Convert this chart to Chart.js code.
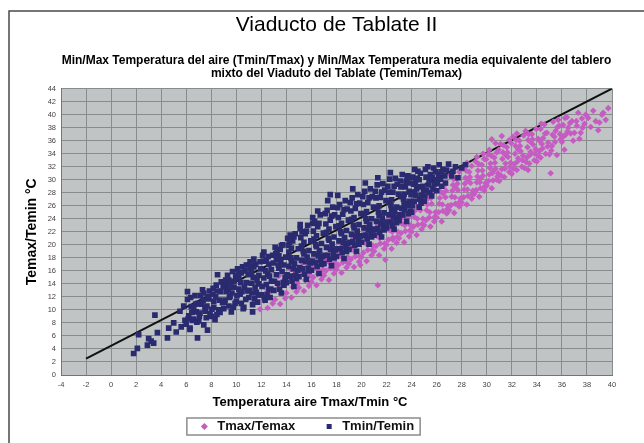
<!DOCTYPE html>
<html>
<head>
<meta charset="utf-8">
<script src="https://cdn.jsdelivr.net/npm/chart.js"></script>
<style>
    html, body { margin: 0; padding: 0; background: #fff; }
</style>
</head>
<body>
<canvas id="myChart" width="644" height="443"></canvas>
<script>
const myChartCanvas = document.getElementById("myChart");

// textos
const chartTitle = "Viaducto de Tablate II";
const chartSubtitle = [
    "Min/Max Temperatura del aire (Tmin/Tmax) y Min/Max Temperatura media equivalente del tablero",
    "mixto del Viaduto del Tablate (Temin/Temax)"
];
const xTitle = "Temperatura aire Tmax/Tmin °C";
const yTitle = "Temax/Temin °C";
const seriesNames = ["Tmax/Temax", "Tmin/Temin"];

// ejes (min, max, paso)
const xRange = [-4, 40, 2];
const yRange = [0, 44, 2];

// recta de referencia
const refLineX = [-2, 40];
const refLineY = [2.5, 44];

// [T aire max, T tablero max]
const tmaxTemax = [
    [11.3,10.9],[11.7,12.2],[11.9,10.1],
    [12.2,11.4],[12.5,10.3],[12.7,12.8],[12.9,11.0],[12.4,13.3],
    [13.1,11.6],[13.3,13.9],[13.5,10.9],[13.6,12.5],[13.8,14.6],[13.9,11.8],[13.4,15.2],
    [14.0,12.6],[14.2,14.9],[14.4,11.9],[14.5,13.5],[14.7,15.6],[14.8,12.8],[14.3,16.3],[14.9,14.1],
    [15.0,13.4],[15.2,15.8],[15.4,12.9],[15.5,14.6],[15.7,16.7],[15.8,13.7],[15.3,17.2],[15.9,15.3],[15.6,18.0],
    [16.0,14.3],[16.2,16.8],[16.4,13.8],[16.5,15.5],[16.7,17.6],[16.8,14.7],[16.3,18.3],[16.9,16.2],[16.6,19.0],
    [17.0,15.3],[17.2,17.7],[17.4,14.6],[17.5,16.4],[17.7,18.6],[17.8,15.6],[17.3,19.4],[17.9,17.2],[17.6,20.1],
    [18.0,16.2],[18.2,18.6],[18.4,15.7],[18.5,17.3],[18.7,19.5],[18.8,16.5],[18.3,20.3],[18.9,18.1],[18.6,21.0],
    [19.0,17.1],[19.2,19.5],[19.4,16.6],[19.5,18.2],[19.7,20.5],[19.8,17.4],[19.3,21.2],[19.9,16.9],[19.6,22.0],
    [20.0,18.1],[20.2,20.4],[20.4,17.5],[20.5,19.2],[20.7,21.4],[20.8,18.4],[20.3,22.2],[20.9,19.9],[20.6,23.0],
    [21.0,19.0],[21.3,13.8],[21.2,21.4],[21.4,18.4],[21.5,20.2],[21.7,22.4],[21.9,17.7],[21.8,19.4],[21.3,23.1],[21.6,24.0],
    [22.0,20.0],[22.2,22.3],[22.4,19.4],[22.5,21.1],[22.7,23.3],[22.8,20.3],[22.3,24.1],[22.9,22.0],[22.6,24.9],[22.5,20.8],
    [23.0,21.0],[23.2,23.3],[23.4,20.4],[23.5,22.1],[23.7,24.3],[23.8,21.3],[23.3,25.0],[23.9,23.0],[23.6,25.9],
    [24.0,22.0],[24.2,24.3],[24.4,21.5],[24.5,23.1],[24.7,25.3],[24.8,22.4],[24.3,26.0],[24.9,24.0],[24.6,26.9],[24.1,27.5],
    [25.0,23.0],[25.2,25.3],[25.5,22.8],[25.4,24.2],[25.6,26.3],[25.8,23.6],[25.3,27.1],[25.9,25.0],[25.7,28.0],[25.1,28.6],
    [26.0,24.2],[26.2,26.3],[26.4,23.6],[26.5,25.2],[26.7,27.3],[26.8,24.8],[26.3,28.2],[26.9,26.0],[26.6,29.1],[26.1,29.7],[26.5,27.9],
    [27.0,25.3],[27.2,27.4],[27.4,24.9],[27.5,26.3],[27.7,28.4],[27.8,25.9],[27.3,29.2],[27.9,27.1],[27.6,30.2],[27.1,30.7],[27.5,28.8],[27.8,31.2],
    [28.0,26.5],[28.2,28.5],[28.4,26.2],[28.5,27.5],[28.7,29.5],[28.8,27.1],[28.3,30.3],[28.9,28.3],[28.6,31.2],[28.1,31.7],[28.5,29.9],[28.8,32.1],[28.4,32.6],
    [29.0,27.8],[29.2,29.6],[29.4,27.4],[29.5,28.7],[29.7,30.6],[29.8,28.3],[29.3,31.4],[29.9,29.5],[29.6,32.3],[29.1,32.8],[29.5,30.2],[29.8,33.2],[29.2,33.5],[29.7,34.0],
    [30.0,29.1],[30.2,30.8],[30.4,28.7],[30.5,29.9],[30.7,31.7],[30.8,30.0],[30.3,32.5],[30.9,31.0],[30.6,33.4],[30.1,33.9],[30.5,31.3],[30.8,34.2],[30.2,34.6],[30.7,35.6],[30.4,36.2],
    [31.0,29.8],[31.2,31.6],[31.4,30.4],[31.5,32.5],[31.7,33.5],[31.8,31.2],[31.3,34.2],[31.9,32.6],[31.6,35.0],[31.1,35.5],[31.5,33.8],[31.8,36.1],[31.2,36.7],
    [32.0,30.9],[32.2,32.4],[32.4,31.5],[32.5,33.3],[32.7,34.4],[32.8,32.0],[32.3,35.2],[32.9,33.7],[32.6,36.0],[32.1,36.6],[32.5,34.6],[32.4,37.1],
    [33.0,31.8],[33.3,31.5],[33.2,33.4],[33.4,32.5],[33.5,34.3],[33.7,35.4],[33.8,33.0],[33.3,36.1],[33.9,34.7],[33.6,37.0],[33.1,37.5],[33.5,35.8],
    [34.0,32.8],[34.3,33.4],[34.2,34.4],[34.4,35.5],[34.5,36.4],[34.7,34.0],[34.8,37.2],[34.3,37.8],[34.9,35.7],[34.6,38.5],[34.1,36.3],
    [35.1,31.0],[35.0,33.9],[35.2,35.2],[35.4,36.6],[35.5,37.5],[35.6,33.8],[35.8,38.3],[35.3,38.9],[35.9,36.2],[35.7,39.2],
    [36.0,35.8],[36.2,34.6],[36.3,36.9],[36.5,38.0],[36.7,37.1],[36.8,39.0],[36.4,39.6],[36.9,36.0],[36.1,38.4],
    [37.0,37.2],[37.2,38.3],[37.3,40.3],[37.5,37.2],[37.6,39.4],[37.8,38.6],[37.4,36.3],[37.9,40.0],
    [38.1,39.5],[38.3,38.1],[38.5,40.6],[38.7,39.0],[38.9,37.6],
    [39.0,38.8],[39.2,40.0],[39.3,40.3],[39.5,39.2],[39.7,41.0],
    [16.15,15.0],[16.45,16.2],[16.85,15.4],[17.15,16.0],[17.45,17.2],[17.85,16.4],[18.15,16.9],[18.45,18.1],[18.85,17.3],
    [19.15,17.8],[19.45,19.0],[19.85,18.2],[20.15,18.8],[20.45,20.0],[20.85,19.2],[21.15,19.8],[21.45,21.0],[21.85,20.2],
    [22.15,20.8],[22.45,22.0],[22.85,21.2],
    [23.15,21.8],[23.45,23.0],[23.85,22.2],[23.25,24.2],[24.15,22.8],[24.45,24.0],[24.85,23.2],[24.25,25.2],
    [25.15,23.8],[25.45,25.0],[25.85,24.3],[25.25,26.2],[25.55,27.2],
    [26.15,25.0],[26.45,26.2],[26.85,25.5],[26.25,27.2],[26.75,28.3],[27.15,26.1],[27.45,27.3],[27.85,26.6],[27.25,28.3],
    [27.65,29.4],[27.35,30.1],[28.15,27.3],[28.45,28.5],[28.85,27.8],[28.25,29.4],[28.65,30.4],[28.35,31.4],[29.15,28.4],
    [29.45,29.6],[29.85,29.0],[29.25,30.5],[29.65,31.4],[29.35,32.4],[29.95,33.1],
    [30.15,29.8],[30.45,31.0],[30.85,30.5],[30.25,31.8],[30.65,32.6],[30.35,33.7],[30.95,34.6],[31.15,30.6],[31.45,31.7],
    [31.85,32.0],[31.25,33.2],[31.65,34.2],[31.35,35.3],[31.95,35.6],[32.15,31.7],[32.45,32.8],[32.85,33.0],[32.25,34.0],
    [32.65,35.2],[32.35,36.1],[32.95,36.8],[33.15,32.7],[33.45,33.8],[33.85,34.0],[33.25,35.0],[33.65,36.2],[33.35,37.0],
    [33.95,37.8],[34.15,33.6],[34.45,34.8],[34.85,35.1],[34.25,35.9],[34.65,37.1],[34.35,38.6],[35.15,34.5],[35.45,35.8],
    [35.85,37.0],[35.25,36.9],[35.65,38.1],[36.15,36.7],[36.45,37.4],[36.65,38.7],[36.25,39.5],[37.15,39.0],[37.65,38.0]
];

// [T aire min, T tablero min]
const tminTemin = [
    [1.8,3.3],[2.1,4.1],[2.2,6.2],[2.9,4.6],[3.2,5.2],[3.0,5.6],[3.4,4.9],[3.7,6.5],[3.5,9.2],[4.5,5.7],[4.6,7.2],
    [5.0,8.0],[5.2,6.6],[5.6,7.4],[5.5,9.8],[5.9,8.4],[6.1,12.8],[6.9,5.7],[7.7,6.9],[6.3,7.0],[6.6,8.6],[5.8,10.6],
    [8.5,15.4],[11.3,9.7],
    [6.0,7.8],[6.2,9.1],[6.4,10.5],[6.1,11.6],[6.5,8.4],[6.7,12.2],[6.8,9.7],[6.3,7.2],[6.9,11.0],[6.6,10.1],
    [7.0,8.3],[7.2,10.9],[7.4,12.6],[7.1,9.5],[7.6,8.8],[7.8,11.7],[7.3,13.1],[7.5,10.2],[7.9,9.4],[7.7,12.0],[7.4,7.7],
    [8.0,9.0],[8.2,11.3],[8.4,13.8],[8.1,12.4],[8.6,10.0],[8.8,14.3],[8.3,8.5],[8.5,12.9],[8.9,11.1],[8.7,9.6],[8.2,10.4],
    [9.0,10.2],[9.2,12.8],[9.4,14.6],[9.1,11.5],[9.6,9.7],[9.8,13.5],[9.3,15.3],[9.5,12.1],[9.9,11.0],[9.7,15.9],[9.4,10.6],[9.2,13.9],[9.8,14.4],
    [10.0,11.3],[10.2,13.2],[10.4,15.7],[10.1,16.3],[10.6,10.4],[10.8,14.2],[10.3,12.4],[10.5,16.6],[10.9,12.9],[10.7,16.0],[10.4,11.0],[10.2,14.8],[10.8,16.9],
    [11.0,11.9],[11.2,14.1],[11.4,16.6],[11.1,17.4],[11.6,12.7],[11.8,15.3],[11.3,10.8],[11.5,13.5],[11.9,17.4],[11.7,11.2],[11.4,17.8],[11.2,15.8],[11.8,14.0],[11.0,16.9],
    [12.0,12.3],[12.2,14.9],[12.4,17.6],[12.1,18.4],[12.6,13.1],[12.8,16.2],[12.3,11.5],[12.5,15.5],[12.9,18.4],[12.7,11.9],[12.4,13.9],[12.2,18.9],[12.8,14.4],[12.6,17.0],
    [13.0,13.0],[13.2,15.4],[13.4,18.3],[13.1,19.6],[13.6,12.6],[13.8,16.9],[13.3,14.1],[13.5,19.3],[13.9,15.0],[13.7,20.0],[13.4,16.4],[13.2,17.8],[13.8,13.8],[13.6,19.9],
    [14.0,14.2],[14.2,16.7],[14.4,19.5],[14.1,21.0],[14.6,13.6],[14.8,18.0],[14.3,15.2],[14.5,20.6],[14.9,16.1],[14.7,21.7],[14.4,17.5],[14.2,18.9],[14.8,14.8],[14.6,21.2],[14.3,21.5],
    [15.0,15.1],[15.2,17.6],[15.4,20.4],[15.1,22.5],[15.6,14.7],[15.8,19.1],[15.3,16.3],[15.5,21.7],[15.9,17.2],[15.7,23.0],[15.4,18.6],[15.2,19.8],[15.8,16.0],[15.6,22.1],[15.1,23.1],
    [16.0,16.1],[16.2,18.6],[16.4,21.4],[16.1,23.3],[16.6,15.6],[16.8,20.2],[16.3,17.3],[16.5,22.8],[16.9,18.2],[16.7,24.6],[16.4,19.7],[16.2,20.9],[16.8,17.0],[16.6,23.3],[16.1,24.2],[16.5,25.2],
    [17.0,17.1],[17.2,19.6],[17.4,22.4],[17.1,24.8],[17.6,16.8],[17.8,21.2],[17.3,18.4],[17.5,23.8],[17.9,19.2],[17.7,25.8],[17.4,20.7],[17.2,21.9],[17.8,18.0],[17.6,24.4],[17.3,26.8],[17.5,27.7],
    [18.0,18.2],[18.2,20.6],[18.4,23.3],[18.1,25.7],[18.6,17.9],[18.8,22.2],[18.3,19.4],[18.5,24.7],[18.9,20.2],[18.7,26.8],[18.4,21.7],[18.2,22.9],[18.8,19.0],[18.6,25.4],[18.1,27.6],
    [19.0,19.3],[19.2,21.6],[19.4,24.2],[19.1,26.5],[19.6,19.0],[19.8,23.1],[19.3,20.5],[19.5,25.6],[19.9,21.3],[19.7,27.7],[19.4,22.6],[19.2,23.9],[19.8,20.1],[19.6,26.3],[19.3,28.6],
    [20.0,20.4],[20.2,22.6],[20.4,25.1],[20.1,27.4],[20.6,20.1],[20.8,24.0],[20.3,21.5],[20.5,26.5],[20.9,22.3],[20.7,28.6],[20.4,23.6],[20.2,24.8],[20.8,21.2],[20.6,27.2],[20.3,29.5],
    [21.0,21.5],[21.2,23.6],[21.4,26.0],[21.1,28.2],[21.6,21.2],[21.8,24.9],[21.3,22.5],[21.5,27.3],[21.9,23.2],[21.7,29.4],[21.4,24.5],[21.2,25.7],[21.8,22.3],[21.6,28.1],[21.3,30.3],
    [22.0,22.6],[22.2,24.6],[22.4,26.9],[22.1,29.0],[22.6,22.4],[22.8,25.8],[22.3,23.5],[22.5,28.1],[22.9,24.2],[22.7,30.2],[22.4,25.4],[22.2,26.5],[22.8,23.4],[22.6,29.0],[22.3,31.1],
    [23.0,23.7],[23.2,25.6],[23.4,27.8],[23.1,29.8],[23.6,23.6],[23.8,26.7],[23.3,24.6],[23.5,28.9],[23.9,25.2],[23.7,30.6],[23.4,26.3],[23.2,27.4],[23.8,28.2],[23.6,29.9],[23.7,30.3],
    [24.0,25.0],[24.2,26.7],[24.4,28.6],[24.1,30.4],[24.6,25.8],[24.8,27.6],[24.3,29.6],[24.5,31.3],[24.9,29.0],[24.7,31.0],[24.2,28.1],[24.6,30.0],
    [25.0,26.7],[25.2,28.3],[25.4,30.0],[25.1,31.6],[25.6,27.5],[25.8,29.4],[25.3,32.0],[25.5,30.8],[25.9,31.2],[25.7,28.6],
    [26.0,28.3],[26.3,30.1],[26.5,31.6],[26.2,32.3],[26.7,29.5],[26.8,31.5],[26.4,29.0],
    [27.2,30.6],[27.5,32.0],[27.7,30.3],[28.0,31.8],[28.3,32.3],[27.3,31.3],
    [6.15,8.6],[6.45,9.6],[6.75,10.9],[6.35,11.9],[6.85,8.1],
    [7.05,9.0],[7.35,11.4],[7.65,10.6],[7.15,12.2],[7.85,12.9],[7.55,9.8],
    [8.05,10.1],[8.35,12.0],[8.65,11.5],[8.15,13.3],[8.75,12.8],[8.45,9.3],[8.95,13.6],
    [9.05,11.2],[9.35,13.2],[9.65,12.6],[9.15,14.6],[9.75,10.4],[9.45,11.9],[9.95,15.2],[9.55,14.0],
    [10.05,12.2],[10.35,14.2],[10.65,13.5],[10.15,15.6],[10.75,11.6],[10.45,12.8],[10.95,15.4],[10.55,10.2],
    [11.05,13.0],[11.35,15.0],[11.65,14.5],[11.15,16.3],[11.75,12.3],[11.45,11.7],[11.95,16.3],[11.55,17.0],[11.25,12.6],
    [12.05,13.6],[12.35,16.0],[12.65,15.2],[12.15,17.5],[12.75,13.2],[12.45,12.4],[12.95,17.2],[12.55,18.2],[12.25,11.9],
    [13.05,14.4],[13.35,16.9],[13.65,15.9],[13.15,18.6],[13.75,14.2],[13.45,13.2],[13.95,18.1],[13.55,17.6],[13.25,19.0],
    [14.05,15.4],[14.35,18.0],[14.65,17.1],[14.15,19.9],[14.75,15.3],[14.45,14.4],[14.95,19.4],[14.55,16.3],[14.25,20.4],
    [15.05,16.5],[15.35,19.0],[15.65,18.1],[15.15,21.1],[15.75,16.4],[15.45,15.5],[15.95,20.6],[15.55,17.4],[15.25,22.0],
    [16.05,17.5],[16.35,20.0],[16.65,19.1],[16.15,22.1],[16.75,17.6],[16.45,16.7],[16.95,21.8],[16.55,18.3],[16.25,23.6],
    [17.05,18.4],[17.35,21.0],[17.65,20.1],[17.15,23.2],[17.75,18.7],[17.45,17.8],[17.95,22.8],[17.55,19.3],[17.25,25.3],[17.85,24.6],
    [18.05,19.4],[18.35,22.0],[18.65,21.1],[18.15,24.2],[18.75,19.7],[18.45,18.8],[18.95,23.8],[18.55,20.3],[18.25,26.2],[18.85,25.5],
    [19.05,20.4],[19.35,23.0],[19.65,22.1],[19.15,25.2],[19.75,20.7],[19.45,19.9],[19.95,24.8],[19.55,21.3],[19.25,27.2],[19.85,26.4],
    [20.05,21.4],[20.35,24.0],[20.65,23.1],[20.15,26.2],[20.75,21.7],[20.45,20.9],[20.95,25.8],[20.55,22.3],[20.25,28.2],[20.85,27.4],
    [21.05,22.4],[21.35,25.0],[21.65,24.1],[21.15,27.2],[21.75,22.7],[21.45,21.9],[21.95,26.8],[21.55,23.3],[21.25,29.2],[21.85,28.4],
    [22.05,23.5],[22.35,26.0],[22.65,25.1],[22.15,28.1],[22.75,23.7],[22.45,22.9],[22.95,27.8],[22.55,24.3],[22.25,30.1],[22.85,29.3],
    [23.05,24.6],[23.35,27.0],[23.65,26.1],[23.15,28.9],[23.75,24.8],[23.45,25.4],[23.95,27.7],[23.55,29.6],[23.25,30.8],[23.85,29.5],
    [24.05,26.0],[24.35,27.6],[24.65,27.0],[24.15,29.3],[24.75,26.4],[24.45,30.2],[24.95,28.3],[24.55,28.9],[24.25,31.6],
    [25.05,27.5],[25.35,29.2],[25.65,30.3],[25.15,30.4],[25.75,31.8],[25.45,28.0],[25.95,30.0],
    [26.05,29.4],[26.35,31.2],[26.65,30.6],[26.15,30.8],[26.95,32.4]
];

const pinkColor = "#c65cc3";
const navyColor = "#2a2a70";

const toPoints = (pairs) => pairs.map(([x, y]) => ({x, y}));

// fondo blanco, marco exterior y área del gráfico en gris
const framePlugin = {
    id: "frame",
    beforeDraw(chart) {
        const {ctx, chartArea} = chart;
        ctx.save();
        ctx.fillStyle = "#ffffff";
        ctx.fillRect(0, 0, chart.width, chart.height);
        ctx.strokeStyle = "#4a4a4a";
        ctx.lineWidth = 1.5;
        ctx.strokeRect(9, 11, 660, 460);
        ctx.fillStyle = "#c0c4c4";
        ctx.fillRect(chartArea.left, chartArea.top, chartArea.right - chartArea.left, chartArea.bottom - chartArea.top);
        ctx.restore();
    }
};

// título del eje X centrado sobre la leyenda + recuadro de la leyenda
const legendBoxPlugin = {
    id: "legendBox",
    afterDraw(chart) {
        const ctx = chart.ctx;
        const lg = chart.legend;
        ctx.save();
        ctx.font = "bold 13px 'Liberation Sans', Arial, sans-serif";
        ctx.fillStyle = "#000";
        ctx.textAlign = "center";
        ctx.textBaseline = "middle";
        ctx.fillText(xTitle, (lg.left + lg.right) / 2 + 4, chart.chartArea.bottom + 27);

        const boxes = lg.legendHitBoxes;
        if (boxes && boxes.length) {
            const left = Math.min(...boxes.map((b) => b.left)) - 11;
            const right = Math.max(...boxes.map((b) => b.left + b.width)) + 6;
            const top = Math.min(...boxes.map((b) => b.top)) - 2;
            const bottom = Math.max(...boxes.map((b) => b.top + b.height)) + 2;
            ctx.strokeStyle = "#8c8c8c";
            ctx.lineWidth = 1.5;
            ctx.strokeRect(left, top, right - left, bottom - top);
        }
        ctx.restore();
    }
};

Chart.defaults.font.family = "'Liberation Sans', Arial, sans-serif";
Chart.defaults.color = "#000";

const gridColor = "#878c8c";
const tickFont = {size: 7.5};

const config = {
    type: "scatter",
    data: {
        datasets: [
            {
                label: seriesNames[0],
                data: toPoints(tmaxTemax),
                pointStyle: "rectRot",
                pointRadius: 3.3,
                pointHoverRadius: 3.3,
                backgroundColor: pinkColor,
                borderColor: pinkColor,
                borderWidth: 0,
                order: 1
            },
            {
                label: seriesNames[1],
                data: toPoints(tminTemin),
                pointStyle: "rect",
                pointRadius: 4,
                pointHoverRadius: 4,
                backgroundColor: navyColor,
                borderColor: navyColor,
                borderWidth: 0,
                order: 0
            },
            {
                type: "line",
                label: "",
                data: refLineX.map((x, i) => ({x, y: refLineY[i]})),
                borderColor: "#111",
                borderWidth: 2,
                pointRadius: 0,
                fill: false,
                order: 2
            }
        ]
    },
    options: {
        responsive: false,
        animation: false,
        layout: {padding: {left: 0, right: 32, top: 3, bottom: 0}},
        scales: {
            x: {
                type: "linear",
                min: xRange[0],
                max: xRange[1],
                afterFit: (scale) => { scale.height = 17.5; },
                ticks: {stepSize: xRange[2], autoSkip: false, maxRotation: 0, padding: 5, font: tickFont, color: "#444"},
                grid: {color: gridColor, lineWidth: 1, drawTicks: false},
                border: {color: "#707575", width: 1}
            },
            y: {
                type: "linear",
                min: yRange[0],
                max: yRange[1],
                afterFit: (scale) => { scale.width = 61; },
                ticks: {stepSize: yRange[2], autoSkip: false, padding: 5, font: tickFont, color: "#444"},
                grid: {color: gridColor, lineWidth: 1, drawTicks: false},
                border: {color: "#707575", width: 1},
                title: {display: true, text: yTitle, font: {size: 14, weight: "bold"}, padding: {top: 24, bottom: 0}}
            }
        },
        plugins: {
            title: {
                display: true,
                fullSize: false,
                text: chartTitle,
                font: {size: 21, weight: "normal"},
                padding: {top: 10, bottom: 0}
            },
            subtitle: {
                display: true,
                fullSize: false,
                text: chartSubtitle,
                color: "#000",
                font: {size: 12, weight: "bold", lineHeight: 1.1},
                padding: {top: 16, bottom: 8}
            },
            legend: {
                position: "bottom",
                labels: {
                    usePointStyle: true,
                    boxHeight: 5,
                    padding: 27.5,
                    font: {size: 13, weight: "bold"},
                    color: "#111",
                    filter: (item) => item.text !== "",
                    sort: (a, b) => a.datasetIndex - b.datasetIndex
                }
            },
            tooltip: {enabled: false}
        }
    },
    plugins: [framePlugin, legendBoxPlugin]
};

const myChart = new Chart(myChartCanvas, config);
</script>
</body>
</html>
